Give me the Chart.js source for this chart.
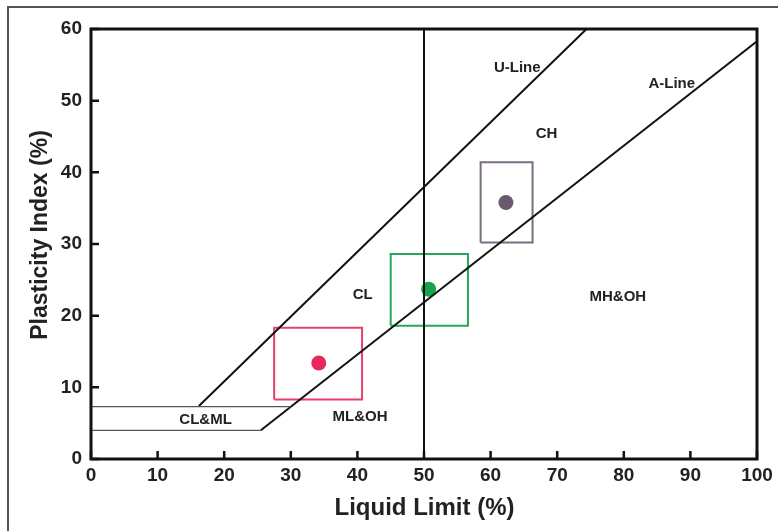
<!DOCTYPE html>
<html>
<head>
<meta charset="utf-8">
<title>Plasticity Chart</title>
<script src="https://cdn.jsdelivr.net/npm/chart.js@4.4.0/dist/chart.umd.min.js"></script>
<style>
    html, body { margin: 0; padding: 0; background: #fff; }
    #wrap { position: relative; width: 778px; height: 531px; }
</style>
</head>
<body>
<div id="wrap"><canvas id="plasticity-chart"></canvas></div>
<script>
(function() {
    'use strict';

    // Classification lines (liquid limit, plasticity index)
    const uLineLL = [16.2, 74.4];
    const uLinePI = [7.4, 60];
    const aLineLL = [25.5, 100];
    const aLinePI = [4, 58.3];
    const clmlUpperLL = [0, 30];
    const clmlUpperPI = [7.3, 7.3];
    const clmlLowerLL = [0, 25.5];
    const clmlLowerPI = [4, 4];
    const dividerLL = [50, 50];
    const dividerPI = [0, 60];

    // Samples: mean point and range box
    const sampleLL = [34.2, 50.7, 62.3];
    const samplePI = [13.4, 23.7, 35.8];
    const boxLLMin = [27.5, 45.0, 58.5];
    const boxLLMax = [40.7, 56.6, 66.3];
    const boxPIMin = [8.3, 18.6, 30.2];
    const boxPIMax = [18.3, 28.6, 41.4];
    const sampleColors = ['#e8285c', '#17a34f', '#6a5a70'];
    const boxColors = ['#e5416b', '#27a65c', '#7b6c80'];

    const xTicks = [0, 10, 20, 30, 40, 50, 60, 70, 80, 90, 100];
    const yTicks = [0, 10, 20, 30, 40, 50, 60];

    // Zone names and where they sit on the chart
    const zoneNames = ['U-Line', 'A-Line', 'CH', 'CL', 'MH&OH', 'ML&OH', 'CL&ML'];
    const zoneLL = [64.0, 87.2, 68.4, 40.8, 79.1, 40.4, 17.2];
    const zonePI = [54.6, 52.4, 45.4, 22.9, 22.6, 5.9, 5.5];

    const FONT = '"Liberation Sans", Arial, sans-serif';
    const INK = '#222';

    const toPoints = (xs, ys) => xs.map((x, i) => ({ x: x, y: ys[i] }));

    const lineSet = (xs, ys, color, width) => ({
        data: toPoints(xs, ys),
        showLine: true,
        borderColor: color,
        borderWidth: width,
        pointRadius: 0,
        fill: false
    });

    const datasets = [
        lineSet(clmlUpperLL, clmlUpperPI, '#555', 1.3),
        lineSet(clmlLowerLL, clmlLowerPI, '#555', 1.3),
        lineSet(uLineLL, uLinePI, '#111', 2),
        lineSet(aLineLL, aLinePI, '#111', 2),
        lineSet(dividerLL, dividerPI, '#111', 2)
    ];

    sampleLL.forEach((ll, i) => {
        const xs = [boxLLMin[i], boxLLMax[i], boxLLMax[i], boxLLMin[i], boxLLMin[i]];
        const ys = [boxPIMin[i], boxPIMin[i], boxPIMax[i], boxPIMax[i], boxPIMin[i]];
        datasets.push(lineSet(xs, ys, boxColors[i], 2));
        datasets.push({
            data: [{ x: ll, y: samplePI[i] }],
            showLine: false,
            pointRadius: 7.5,
            pointBackgroundColor: sampleColors[i],
            pointBorderWidth: 0
        });
    });

    const chartDecor = {
        id: 'chartDecor',
        beforeDraw: function(chart) {
            const ctx = chart.ctx;
            ctx.save();
            ctx.fillStyle = '#fff';
            ctx.fillRect(0, 0, chart.width, chart.height);
            // outer figure frame
            ctx.strokeStyle = '#555';
            ctx.lineWidth = 2;
            ctx.beginPath();
            ctx.moveTo(8, chart.height);
            ctx.lineTo(8, 7);
            ctx.lineTo(chart.width, 7);
            ctx.stroke();
            ctx.restore();
        },
        afterDraw: function(chart) {
            const ctx = chart.ctx;
            const area = chart.chartArea;
            const xs = chart.scales.x;
            const ys = chart.scales.y;
            ctx.save();

            // plot box
            ctx.strokeStyle = '#111';
            ctx.lineWidth = 3;
            ctx.strokeRect(area.left, area.top, area.right - area.left, area.bottom - area.top);

            // inward ticks
            ctx.lineWidth = 2.5;
            ctx.beginPath();
            xTicks.forEach(v => {
                const px = xs.getPixelForValue(v);
                ctx.moveTo(px, area.bottom);
                ctx.lineTo(px, area.bottom - 8);
            });
            yTicks.forEach(v => {
                const py = ys.getPixelForValue(v);
                ctx.moveTo(area.left, py);
                ctx.lineTo(area.left + 8, py);
            });
            ctx.stroke();

            // zone labels
            ctx.fillStyle = INK;
            ctx.font = 'bold 15px ' + FONT;
            ctx.textAlign = 'center';
            ctx.textBaseline = 'middle';
            zoneNames.forEach((name, i) => {
                ctx.fillText(name, xs.getPixelForValue(zoneLL[i]), ys.getPixelForValue(zonePI[i]));
            });

            // axis titles
            ctx.font = 'bold 24px ' + FONT;
            ctx.textBaseline = 'alphabetic';
            ctx.fillText('Liquid Limit (%)', (area.left + area.right) / 2 + 0.5, 515);

            ctx.font = 'bold 23px ' + FONT;
            ctx.translate(47, 235);
            ctx.rotate(-Math.PI / 2);
            ctx.fillText('Plasticity Index (%)', 0, 0);
            ctx.restore();
        }
    };

    new Chart(document.getElementById('plasticity-chart'), {
        type: 'scatter',
        data: { datasets: datasets },
        options: {
            responsive: true,
            maintainAspectRatio: false,
            animation: false,
            layout: { padding: { top: 29, right: 21, left: 0, bottom: 0 } },
            plugins: {
                legend: { display: false },
                tooltip: { enabled: false }
            },
            scales: {
                x: {
                    type: 'linear',
                    min: 0,
                    max: 100,
                    afterBuildTicks: s => { s.ticks = xTicks.map(v => ({ value: v })); },
                    afterFit: s => { s.height = 72; },
                    grid: { display: false, drawTicks: false },
                    border: { display: false },
                    ticks: {
                        padding: 5,
                        color: INK,
                        font: { family: FONT, size: 19, weight: 'bold' },
                        maxRotation: 0
                    }
                },
                y: {
                    type: 'linear',
                    min: 0,
                    max: 60,
                    afterBuildTicks: s => { s.ticks = yTicks.map(v => ({ value: v })); },
                    afterFit: s => { s.width = 91; },
                    grid: { display: false, drawTicks: false },
                    border: { display: false },
                    ticks: {
                        padding: 9,
                        color: INK,
                        font: { family: FONT, size: 19, weight: 'bold' }
                    }
                }
            }
        },
        plugins: [chartDecor]
    });
})();
</script>
</body>
</html>
